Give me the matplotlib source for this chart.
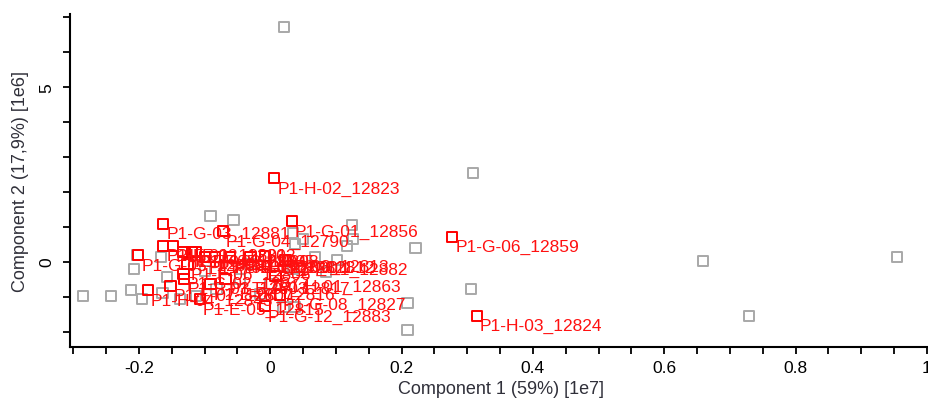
import matplotlib
matplotlib.use("Agg")
import matplotlib.pyplot as plt
from matplotlib.ticker import MultipleLocator

plt.rcParams["font.family"] = ["Liberation Sans", "DejaVu Sans"]

# component scores: x in 1e7, y in 1e6
gray_x = [0.021, 0.309, 0.659, 0.954, 0.729, 0.306, 0.209, 0.209, 0.221, 0.125,
          0.126, 0.117, 0.102, 0.085, 0.035, 0.050, 0.038, 0.020, 0.038, 0.035,
          -0.091, -0.056, -0.242, -0.212, -0.195, -0.207, -0.202, -0.166, -0.157, -0.164,
          -0.285, -0.113, -0.082, -0.046, -0.030, -0.099, -0.137, -0.015, 0.068, 0.000]
gray_y = [6.71, 2.53, 0.02, 0.13, -1.55, -0.78, -1.95, -1.18, 0.39, 1.05,
          0.65, 0.45, 0.05, -0.29, 0.82, 0.65, 0.51, -1.29, -1.29, -0.21,
          1.31, 1.19, -0.98, -0.81, -1.07, -0.21, 0.19, 0.13, -0.44, -0.89,
          -0.98, -0.98, -0.78, -0.49, -0.07, -0.27, -1.07, -0.92, 0.13, -0.64]

red_labels = ["P1-H-02_12823", "P1-G-01_12856", "P1-G-06_12859", "P1-H-03_12824",
              "P1-G-03_12881", "P1-G-04_12790", "P1-F-11_12882", "P1-H-01_12863",
              "P1-G-08_12827", "P1-G-12_12883", "P1-G-02_12877", "P1-H-04_12843",
              "P1-G-05_12858", "P1-F-01_12801", "P1-F-02_12802", "P1-F-03_12803",
              "P1-F-04_12804", "P1-F-05_12805", "P1-F-06_12806", "P1-F-07_12807",
              "P1-F-08_12808", "P1-F-09_12809", "P1-F-10_12810", "P1-E-01_12811",
              "P1-E-02_12812", "P1-E-03_12813", "P1-E-05_12815",
              "P1-E-06_12816", "P1-E-07_12817"]
red_x = [0.006, 0.033, 0.277, 0.315, -0.163, -0.072, 0.023, 0.008,
         0.015, -0.008, -0.132, -0.186, -0.201, -0.163, -0.148, -0.131,
         -0.132, -0.119, -0.126, -0.152, -0.114, -0.099, -0.084, -0.061,
         -0.030, -0.008, -0.107, -0.091, -0.068]
red_y = [2.39, 1.16, 0.71, -1.55, 1.08, 0.87, 0.05, -0.41,
         -0.95, -1.27, -0.35, -0.81, 0.19, 0.45, 0.45, -0.49,
         0.28, 0.28, -0.07, -0.69, 0.28, 0.13, 0.13, 0.13,
         0.13, 0.16, -1.07, -0.64, -0.49]

fig = plt.figure(figsize=(9.29, 4.02), dpi=100)
ax = fig.add_axes([0.0753, 0.1343, 0.9225, 0.8284])

ax.scatter(gray_x, gray_y, marker="s", s=55, facecolors="none",
           edgecolors="#a8a8a8", linewidths=1.4, zorder=2)
ax.scatter(red_x, red_y, marker="s", s=55, facecolors="none",
           edgecolors="#ff0000", linewidths=1.4, zorder=3)
for lx, ly, lab in zip(red_x, red_y, red_labels):
    ax.annotate(lab, (lx, ly), xytext=(3, -10), textcoords="offset pixels",
                ha="left", va="center", color="#ff1010", fontsize=12.5, zorder=4)

ax.set_xlim(-0.305, 1.0)
ax.set_ylim(-2.44, 7.08)
ax.xaxis.set_minor_locator(MultipleLocator(0.05))
ax.yaxis.set_minor_locator(MultipleLocator(1))
ax.set_xticks([-0.2, 0, 0.2, 0.4, 0.6, 0.8, 1.0])
ax.set_xticklabels(["-0.2", "0", "0.2", "0.4", "0.6", "0.8", "1"])
ax.set_yticks([0, 5])
ax.set_yticklabels(["0", "5"], rotation=90, va="center")

for side in ["top", "right"]:
    ax.spines[side].set_visible(False)
for side in ["left", "bottom"]:
    ax.spines[side].set_linewidth(1.5)
ax.tick_params(which="both", direction="out", length=5, width=1.3, labelsize=12.5)
ax.tick_params(axis="x", pad=4)
ax.tick_params(axis="y", pad=6)

ax.set_xlabel("Component 1 (59%) [1e7]", fontsize=13, color="#30303a")
ax.set_ylabel("Component 2 (17,9%) [1e6]", fontsize=13, color="#30303a", labelpad=8)
ax.xaxis.set_label_coords(0.503, -0.1)

fig.savefig("out.png", dpi=100)
